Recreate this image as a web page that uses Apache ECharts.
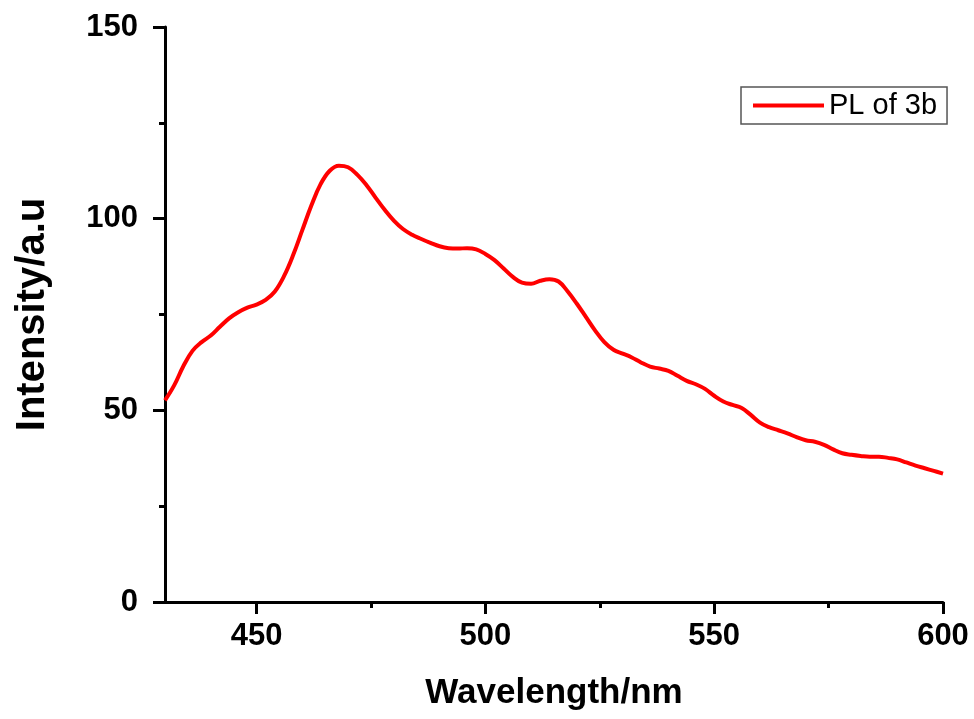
<!DOCTYPE html>
<html>
<head>
<meta charset="utf-8">
<script src="https://cdn.jsdelivr.net/npm/echarts@6/dist/echarts.min.js"></script>
<style>
  html, body { margin: 0; padding: 0; background: #fff; }
  #main { width: 974px; height: 719px; }
</style>
</head>
<body>
<div id="main"></div>
<script>
// PL spectrum of 3b
var wavelength = [430, 432, 434, 436, 438, 440, 442, 444, 446, 448, 450, 452, 454, 456, 458, 460,
  462, 464, 466, 468, 470, 472, 474, 476, 478, 480, 482, 484, 486, 488, 490, 492, 494, 496, 498,
  500, 502, 504, 506, 508, 510, 512, 514, 516, 518, 520, 522, 524, 526, 528, 530, 532, 534, 536,
  538, 540, 542, 544, 546, 548, 550, 552, 554, 556, 558, 560, 562, 564, 566, 568, 570, 572, 574,
  576, 578, 580, 582, 584, 586, 588, 590, 592, 594, 596, 598, 600];
var intensity = [52.6, 56.5, 61.5, 65.5, 67.8, 69.5, 71.8, 74, 75.6, 76.8, 77.6, 78.8, 81, 85, 90.5, 97,
  103.5, 109, 112.5, 113.8, 113.4, 111.5, 108.8, 105.5, 102.3, 99.5, 97.3, 95.8, 94.7, 93.7, 92.8, 92.3, 92.2, 92.3, 92.0,
  90.8, 89.2, 87, 84.8, 83.3, 83, 83.8, 84.2, 83.6, 81, 77.8, 74.3, 70.8, 67.8, 65.8, 64.8, 63.8, 62.5, 61.4,
  60.9, 60.3, 59, 57.7, 56.8, 55.6, 53.8, 52.3, 51.4, 50.6, 48.8, 46.8, 45.6, 44.8, 44, 43, 42.2, 41.8, 41,
  39.8, 38.8, 38.4, 38.1, 37.9, 37.9, 37.6, 37.2, 36.4, 35.6, 34.9, 34.2, 33.5];
var xTicks = [450, 500, 550, 600];
var xMinorTicks = [475, 525, 575];
var seriesName = "PL of 3b";

var font = "'Liberation Sans', Arial, sans-serif";
var myChart = echarts.init(document.getElementById("main"));

var points = wavelength.map(function (w, i) {
  return [w, intensity[i]];
});

myChart.setOption({
  animation: false,
  backgroundColor: "#fff",
  textStyle: { fontFamily: font },
  grid: {
    left: 165,
    right: 31,
    top: 27,
    bottom: 117,
    containLabel: false,
  },
  legend: {
    left: 741,
    top: 87,
    padding: [4, 10, 4, 12],
    icon: "rect",
    itemWidth: 71,
    itemHeight: 4,
    itemGap: 8,
    borderColor: "#555",
    borderWidth: 1.5,
    borderRadius: 0,
    textStyle: { fontSize: 29, color: "#000", fontFamily: font },
    data: [seriesName],
  },
  xAxis: [
    {
      type: "value",
      min: 430,
      max: 600,
      name: "Wavelength/nm",
      nameLocation: "middle",
      nameGap: 74,
      nameTextStyle: { fontSize: 35, fontWeight: "bold", color: "#000" },
      splitLine: { show: false },
      axisLine: { lineStyle: { color: "#000", width: 3 } },
      axisTick: {
        customValues: xTicks,
        length: 12,
        lineStyle: { color: "#000", width: 3 },
      },
      axisLabel: {
        customValues: xTicks,
        margin: 19,
        fontSize: 31,
        fontWeight: "bold",
        color: "#000",
      },
    },
    {
      // minor ticks only
      type: "value",
      min: 430,
      max: 600,
      position: "bottom",
      splitLine: { show: false },
      axisLine: { show: false },
      axisTick: {
        customValues: xMinorTicks,
        length: 6,
        lineStyle: { color: "#000", width: 3 },
      },
      axisLabel: { show: false },
    },
  ],
  yAxis: {
    type: "value",
    min: 0,
    max: 150,
    interval: 50,
    name: "Intensity/a.u",
    nameLocation: "middle",
    nameGap: 112,
    nameTextStyle: { fontSize: 40, fontWeight: "bold", color: "#000" },
    splitLine: { show: false },
    axisLine: { show: true, lineStyle: { color: "#000", width: 3 } },
    axisTick: { show: true, length: 12, lineStyle: { color: "#000", width: 3 } },
    minorTick: { show: true, splitNumber: 2, length: 6, lineStyle: { color: "#000", width: 3 } },
    minorSplitLine: { show: false },
    axisLabel: {
      margin: 27,
      fontSize: 31,
      fontWeight: "bold",
      color: "#000",
    },
  },
  series: [
    {
      name: seriesName,
      type: "line",
      xAxisIndex: 0,
      data: points,
      smooth: 0.4,
      showSymbol: false,
      symbol: "none",
      lineStyle: { color: "#ff0000", width: 4 },
      itemStyle: { color: "#ff0000" },
    },
  ],
});
</script>
</body>
</html>
